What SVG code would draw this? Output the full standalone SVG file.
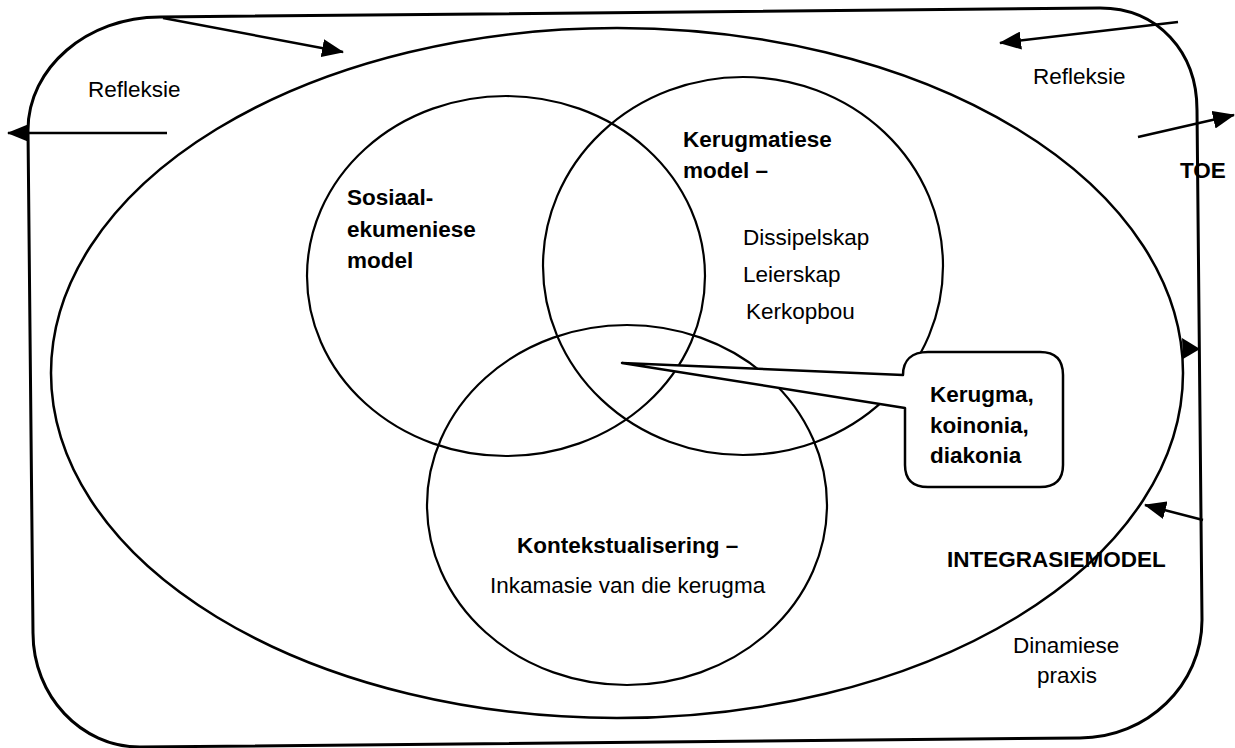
<svg xmlns="http://www.w3.org/2000/svg" width="1235" height="748" viewBox="0 0 1235 748">
<style>
.t{font-family:"Liberation Sans",Arial,sans-serif;font-size:22.5px;fill:#000}
.b{font-weight:bold}
.shape{fill:none;stroke:#000;stroke-width:2.2}
.arrow{fill:none;stroke:#000;stroke-width:2.5}
</style>
<defs>
<marker id="ah" viewBox="0 0 22 18" refX="21" refY="9" markerWidth="22" markerHeight="18" orient="auto" markerUnits="userSpaceOnUse"><path d="M0,0 L22,9 L0,18 Z" fill="#000"/></marker>
</defs>
<rect width="1235" height="748" fill="#fff"/>
<g id="frame">
<path class="shape" style="stroke-width:3" d="M160,17 L1100,8 C1158,8 1197,52 1197,110 L1202,620 C1202,685 1147,738 1080,738 L140,747 C81,747 33,696 33,633 L28,130 C28,68 87,17 160,17 Z"/>
<text class="t" x="88" y="97">Refleksie</text>
<text class="t" x="1033" y="84">Refleksie</text>
<text class="t b" x="1180" y="178">TOE</text>
</g>
<g id="integrasiemodel">
<ellipse class="shape" style="stroke-width:2.5" cx="617" cy="373" rx="566" ry="345"/>
<text class="t b" x="947" y="567">INTEGRASIEMODEL</text>
<text class="t" x="1013" y="653">Dinamiese</text>
<text class="t" x="1037" y="683">praxis</text>
</g>
<g id="sosiaal">
<ellipse class="shape" cx="506" cy="276" rx="199" ry="180"/>
<text class="t b" x="347" y="205">Sosiaal-</text>
<text class="t b" x="347" y="237">ekumeniese</text>
<text class="t b" x="347" y="268">model</text>
</g>
<g id="kerugmatiese">
<ellipse class="shape" cx="743" cy="266" rx="200" ry="189"/>
<text class="t b" x="683" y="147">Kerugmatiese</text>
<text class="t b" x="683" y="178">model –</text>
<text class="t" x="743" y="245">Dissipelskap</text>
<text class="t" x="743" y="282">Leierskap</text>
<text class="t" x="746" y="319">Kerkopbou</text>
</g>
<g id="kontekstualisering">
<ellipse class="shape" cx="627" cy="505" rx="200" ry="180"/>
<text class="t b" x="517" y="553">Kontekstualisering –</text>
<text class="t" x="490" y="593">Inkamasie van die kerugma</text>
</g>
<g id="callout">
<path d="M622,363 L903,375 C903,360 912,352 928,352 L1040,352 Q1063,352 1063,375 L1063,465 Q1063,487 1040,487 L928,487 Q905,487 905,465 L905,408 Z" fill="#fff" stroke="#000" stroke-width="2.5" stroke-linejoin="round"/>
<text class="t b" x="930" y="402">Kerugma,</text>
<text class="t b" x="930" y="433">koinonia,</text>
<text class="t b" x="930" y="463">diakonia</text>
</g>
<g id="connectors">
<path class="arrow" d="M163,18 L343,52" marker-end="url(#ah)"/>
<path class="arrow" d="M167,133 L8,133" marker-end="url(#ah)"/>
<path class="arrow" d="M1178,22 L1000,43" marker-end="url(#ah)"/>
<path class="arrow" d="M1138,137 L1234,115" marker-end="url(#ah)"/>
<polygon points="1182,338 1200,349 1183,359" fill="#000"/>
<path class="arrow" d="M1203,520 L1145,505" marker-end="url(#ah)"/>
</g>
</svg>
